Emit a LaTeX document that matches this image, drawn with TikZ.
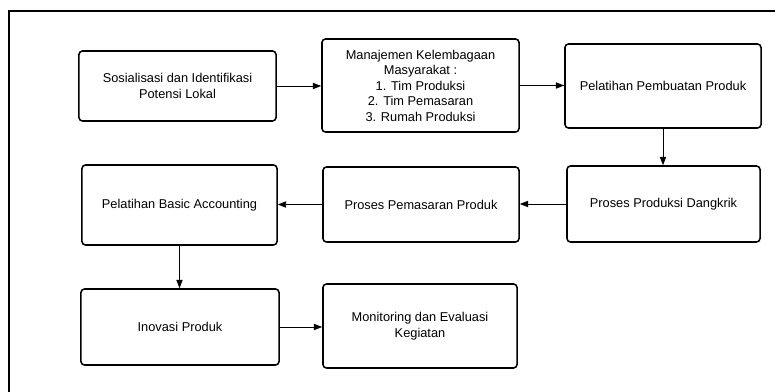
\documentclass[tikz,border=0pt]{standalone}
\usepackage{fontspec}
\setmainfont{Liberation Sans}
\usetikzlibrary{arrows.meta}

\tikzset{
  box/.style={draw, line width=1.1pt, rounded corners=2.5pt, align=center,
    inner sep=2pt, font=\fontsize{9.1}{11}\selectfont},
  flow/.style={line width=0.7pt, -{Triangle[length=6pt,width=4.5pt]}}
}

\begin{document}
\begin{tikzpicture}[x=0.025cm, y=-0.025cm]
    % Frame (only top and left edges fall inside the picture):
    \useasboundingbox (0,0) rectangle (775,392);
    \draw[line width=1.9pt] (9,400) -- (9,11) -- (790,11);
    % Boxes, first row:
    \node[box, minimum width=4.925cm, minimum height=1.75cm] (sosial) at (177.5,86)
      {Sosialisasi dan Identifikasi\\Potensi Lokal};
    \node[box, minimum width=4.925cm, minimum height=2.325cm] (lembaga) at (420.5,85.5)
      {Manajemen Kelembagaan\\Masyarakat :\\1. Tim Produksi\\2. Tim Pemasaran\\3. Rumah Produksi};
    \node[box, minimum width=4.9cm, minimum height=2.1cm] (latihbuat) at (663,86)
      {Pelatihan Pembuatan Produk};
    % Second row:
    \node[box, minimum width=4.825cm, minimum height=1.9cm] (produksi) at (663.5,204)
      {Proses Produksi Dangkrik};
    \node[box, minimum width=4.9cm, minimum height=1.875cm] (pasar) at (421,204.5)
      {Proses Pemasaran Produk};
    \node[box, minimum width=4.875cm, minimum height=2cm] (akuntansi) at (179.5,205)
      {Pelatihan Basic Accounting};
    % Third row:
    \node[box, minimum width=4.95cm, minimum height=1.9cm] (inovasi) at (180,327)
      {Inovasi Produk};
    \node[box, minimum width=4.85cm, minimum height=2.1cm] (monev) at (420,326)
      {Monitoring dan Evaluasi\\Kegiatan};
    % Arrows:
    \draw[flow] (sosial.east) -- (sosial.east -| lembaga.west);
    \draw[flow] (lembaga.east) -- (lembaga.east -| latihbuat.west);
    \draw[flow] (latihbuat.south) -- (latihbuat.south |- produksi.north);
    \draw[flow] (produksi.west) -- (produksi.west -| pasar.east);
    \draw[flow] (pasar.west) -- (pasar.west -| akuntansi.east);
    \draw[flow] (akuntansi.south) -- (akuntansi.south |- inovasi.north);
    \draw[flow] (inovasi.east) -- (inovasi.east -| monev.west);
\end{tikzpicture}
\end{document}
